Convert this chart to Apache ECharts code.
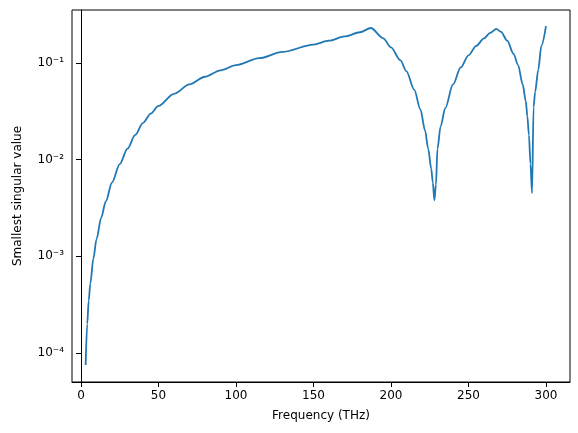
<!DOCTYPE html>
<html><head><meta charset="utf-8">
<script src="https://cdn.jsdelivr.net/npm/echarts@6/dist/echarts.min.js"></script>
<style>html,body{margin:0;padding:0;background:#fff}#c{width:578px;height:433px}</style>
</head><body><div id="c"></div>
<script>
const freq = [3,4,5,6,8,10,13,16,20,25,30,35,40,45,50,60,70,80,90,100,115,130,150,160,170,180,187,195,200,206,210,215,219,222,224,226,227,228,229,230,232,235,240,245,250,255,260,264,268,271,275,279,282,285,287,288,289,290,291,292,293,295,297,300];
const svals = [7.5e-5,2.0e-4,3.5e-4,5.2e-4,9.5e-4,1.5e-3,2.5e-3,3.7e-3,5.8e-3,9.0e-3,1.3e-2,1.8e-2,2.4e-2,3.0e-2,3.6e-2,4.8e-2,6.0e-2,7.2e-2,8.4e-2,9.5e-2,1.12e-1,1.3e-1,1.55e-1,1.7e-1,1.88e-1,2.08e-1,2.3e-1,1.8e-1,1.45e-1,1.07e-1,8.2e-2,5.3e-2,3.3e-2,2.0e-2,1.3e-2,8e-3,5.8e-3,3.8e-3,5.5e-3,1.3e-2,2.2e-2,3.4e-2,6.0e-2,9.0e-2,1.2e-1,1.5e-1,1.8e-1,2.05e-1,2.25e-1,2.1e-1,1.7e-1,1.25e-1,9.5e-2,6.0e-2,4.0e-2,2.8e-2,1.8e-2,9e-3,4.5e-3,3.5e-2,5.0e-2,8.5e-2,1.5e-1,2.4e-1];
const xTicks = [0,50,100,150,200,250,300];
const yTicks = [-4,-3,-2,-1];
const sup = {'-':'⁻','0':'⁰','1':'¹','2':'²','3':'³','4':'⁴'};
const chart = echarts.init(document.getElementById('c'));
const font = 'DejaVu Sans';
chart.setOption({
  animation:false,
  grid:{left:72,right:8,top:10,bottom:51,show:true,borderColor:'#000',borderWidth:1},
  xAxis:{type:'value',min:-5.8,max:315.5,name:'Frequency (THz)',nameLocation:'middle',nameGap:28,
    nameTextStyle:{color:'#000',fontFamily:font,fontSize:12},
    axisLine:{onZero:false,lineStyle:{color:'#000'}},
    splitLine:{show:false},
    axisLabel:{color:'#000',fontFamily:font,fontSize:12,customValues:xTicks},
    axisTick:{customValues:xTicks,length:5,lineStyle:{color:'#000'}}},
  yAxis:{type:'log',logBase:10,min:Math.pow(10,-4.3),max:Math.pow(10,-0.452),name:'Smallest singular value',
    nameLocation:'middle',nameGap:48,nameTextStyle:{color:'#000',fontFamily:font,fontSize:12},
    axisLine:{show:true,lineStyle:{color:'#000'}},splitLine:{show:false},
    axisTick:{customValues:yTicks.map(e=>Math.pow(10,e)),length:5,lineStyle:{color:'#000'}},
    axisLabel:{color:'#000',fontFamily:font,fontSize:12,customValues:yTicks.map(e=>Math.pow(10,e)),
      formatter:v=>{const e=Math.round(Math.log10(v));return '10'+String(e).split('').map(c=>sup[c]).join('');}}},
  series:[{type:'line',data:freq.map((f,i)=>[f,svals[i]]),showSymbol:false,smooth:0.3,smoothMonotone:'x',
    lineStyle:{color:'#1f77b4',width:1.8},itemStyle:{color:'#1f77b4'}}]
});
</script></body></html>
